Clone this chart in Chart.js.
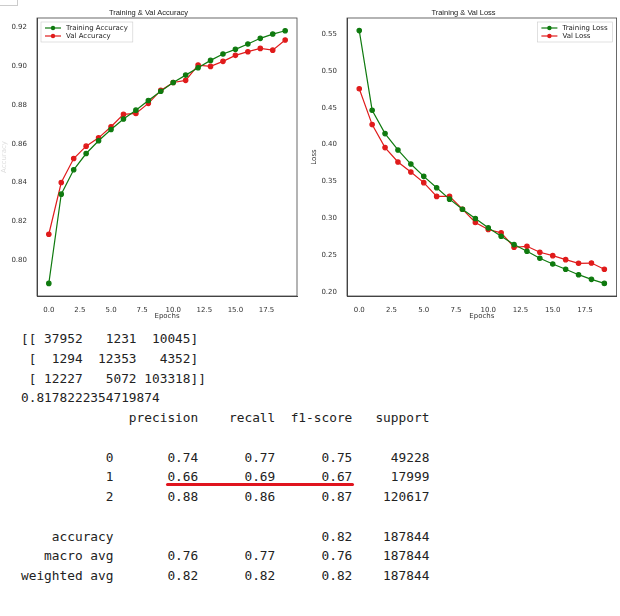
<!DOCTYPE html>
<html>
<head>
<meta charset="utf-8">
<script src="https://cdn.jsdelivr.net/npm/chart.js@4"></script>
<style>
  body { margin: 0; background: #fff; width: 620px; height: 616px; position: relative; overflow: hidden; }
  .box { position: absolute; }
  pre { position: absolute; left: 21px; top: 329px; margin: 0; font-family: "DejaVu Sans Mono", monospace; font-size: 12.8px; line-height: 19.75px; color: #222; }
  #mark { position: absolute; left: 166px; top: 483px; width: 188px; height: 3px; background: #e0141e; border-radius: 2px; }
  #corner { position: absolute; left: 0; top: 0; width: 17px; height: 5px; border-right: 1px solid #ccc; border-bottom: 1px solid #ccc; }
</style>
</head>
<body>
<div id="corner"></div>
<div class="box" style="left:0;top:0;width:310px;height:320px"><canvas id="acc"></canvas></div>
<div class="box" style="left:310px;top:0;width:310px;height:320px"><canvas id="loss"></canvas></div>
<pre>[[ 37952   1231  10045]
 [  1294  12353   4352]
 [ 12227   5072 103318]]
0.8178222354719874
              precision    recall  f1-score   support

           0       0.74      0.77      0.75     49228
           1       0.66      0.69      0.67     17999
           2       0.88      0.86      0.87    120617

    accuracy                           0.82    187844
   macro avg       0.76      0.77      0.76    187844
weighted avg       0.82      0.82      0.82    187844</pre>
<div id="mark"></div>
<script>
const epochs = [0,1,2,3,4,5,6,7,8,9,10,11,12,13,14,15,16,17,18,19];
const trainAcc = [0.7879,0.834,0.8466,0.855,0.8616,0.8674,0.8728,0.8774,0.8824,0.8872,0.8917,0.8955,0.8993,0.9031,0.9064,0.9088,0.9116,0.9145,0.9167,0.9184];
const valAcc = [0.8133,0.840,0.8524,0.8588,0.8631,0.8688,0.8752,0.8757,0.8809,0.8876,0.8917,0.8928,0.9007,0.900,0.9026,0.9057,0.9076,0.9093,0.9084,0.9136];
const trainLoss = [0.5545,0.4466,0.4149,0.3927,0.3736,0.3569,0.3414,0.326,0.3124,0.2997,0.2871,0.2757,0.2644,0.2553,0.2458,0.2381,0.2309,0.2236,0.2173,0.2118];
const valLoss = [0.4756,0.4271,0.3959,0.3764,0.3628,0.3484,0.3297,0.3297,0.3124,0.2943,0.2848,0.2803,0.2608,0.2621,0.254,0.2494,0.244,0.239,0.2394,0.2309];
const xTicks = [0,2.5,5,7.5,10,12.5,15,17.5];
const accTicks = [0.80,0.82,0.84,0.86,0.88,0.90,0.92];
const lossTicks = [0.20,0.25,0.30,0.35,0.40,0.45,0.50,0.55];

const GREEN = "#0f7a0f", RED = "#e01b1b";

// plot frame plus a matplotlib-like legend box inside the plot
const frame = {
  id: "frame",
  afterDraw(chart, args, opts) {
    const a = chart.chartArea, c = chart.ctx;
    c.save(); c.strokeStyle = "#444"; c.lineWidth = 0.8;
    c.strokeRect(a.left, a.top, a.right - a.left, a.bottom - a.top);
    c.font = "7px 'DejaVu Sans', sans-serif";
    const sets = chart.data.datasets;
    const w = 26 + Math.max(...sets.map(d => c.measureText(d.label).width)) + 4;
    const h = sets.length * 8 + 4;
    const x = opts.align === "end" ? a.right - w - 4 : a.left + 4;
    const y = a.top + 4;
    c.fillStyle = "rgba(255,255,255,0.85)"; c.strokeStyle = "#ccc"; c.lineWidth = 0.6;
    c.fillRect(x, y, w, h); c.strokeRect(x, y, w, h);
    sets.forEach((d, i) => {
      const ly = y + 6 + i * 8;
      c.strokeStyle = d.borderColor; c.lineWidth = 1.2;
      c.beginPath(); c.moveTo(x + 4, ly); c.lineTo(x + 20, ly); c.stroke();
      c.fillStyle = d.borderColor;
      c.beginPath(); c.arc(x + 12, ly, 2.2, 0, Math.PI * 2); c.fill();
      c.fillStyle = "#222"; c.textBaseline = "middle";
      c.fillText(d.label, x + 25, ly + 0.5);
    });
    c.restore();
  }
};

function series(label, ys, color) {
  return {
    label: label, data: epochs.map((e, i) => ({x: e, y: ys[i]})),
    borderColor: color, backgroundColor: color, borderWidth: 1.2,
    pointRadius: 2.2, pointHoverRadius: 2.2, tension: 0
  };
}

function makeChart(id, title, yTitle, yTitleColor, sets, yTicks, yMin, yMax, padRight, legendAlign) {
  new Chart(id, {
    type: "line",
    data: { datasets: sets },
    plugins: [frame],
    options: {
      responsive: true, maintainAspectRatio: false, animation: false,
      font: { family: "'DejaVu Sans', sans-serif" },
      layout: { padding: { left: 0, right: padRight, top: 0, bottom: 0 } },
      plugins: {
        frame: { align: legendAlign },
        title: { display: true, text: title, color: "#222", font: { size: 7.5, weight: "normal" }, padding: { top: 8, bottom: 1 } },
        legend: { display: false },
        tooltip: { enabled: false }
      },
      scales: {
        x: {
          type: "linear", min: -0.95, max: 19.95,
          afterBuildTicks: s => { s.ticks = xTicks.map(v => ({value: v})); },
          afterFit: s => { s.height = 24; },
          grid: { display: false },
          border: { color: "#444" },
          ticks: { callback: v => v.toFixed(1), color: "#333", font: { size: 7 }, padding: 2, maxRotation: 0 },
          title: { display: true, text: "Epochs", color: "#333", font: { size: 7 }, padding: 0 }
        },
        y: {
          min: yMin, max: yMax,
          afterBuildTicks: s => { s.ticks = yTicks.map(v => ({value: v})); },
          afterFit: s => { s.width = 37; },
          grid: { display: false },
          border: { color: "#444" },
          ticks: { callback: v => v.toFixed(2), color: "#333", font: { size: 7 }, padding: 2 },
          title: { display: true, text: yTitle, color: yTitleColor, font: { size: 7 }, padding: 0 }
        }
      }
    }
  });
}

makeChart("acc", "Training & Val Accuracy", "Accuracy", "#ddd",
  [series("Training Accuracy", trainAcc, GREEN), series("Val Accuracy", valAcc, RED)],
  accTicks, 0.7814, 0.925, 13, "start");
makeChart("loss", "Training & Val Loss", "Loss", "#333",
  [series("Training Loss", trainLoss, GREEN), series("Val Loss", valLoss, RED)],
  lossTicks, 0.1947, 0.5716, 3, "end");
</script>
</body>
</html>
